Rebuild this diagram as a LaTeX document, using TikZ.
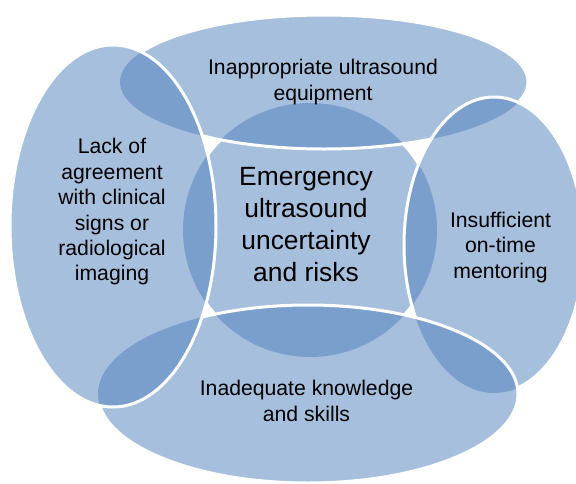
\documentclass[tikz,border=0pt]{standalone}
\usepackage{fontspec}
\setmainfont{Liberation Sans}
\definecolor{accent}{RGB}{79,129,189}
\begin{document}
\begin{tikzpicture}[x=1pt,y=-1pt,
  shapefill/.style={fill=accent, fill opacity=0.5},
  rim/.style={draw=white, line width=3pt},
  lbl/.style={align=center, inner sep=0pt, text=black, font=\fontsize{21.2}{25.4}\selectfont},
]
\useasboundingbox (0,0) rectangle (576,483);
\fill[white] (0,0) rectangle (576,483);
% fills (overlaps darken)
\path[shapefill] (310,230) circle (127pt);
\path[shapefill] (324,82) ellipse (204pt and 67pt);
\path[shapefill] (494,245) ellipse (90pt and 148pt);
\path[shapefill] (308,394) ellipse (210pt and 89pt);
\path[shapefill] (113,226) ellipse (103pt and 181pt);
% circle rim: visible only outside all ellipses
\begin{scope}[even odd rule]
  \clip (-30,-30) rectangle (610,520) (324,82) ellipse (204pt and 67pt);
  \clip (-30,-30) rectangle (610,520) (494,245) ellipse (90pt and 148pt);
  \clip (-30,-30) rectangle (610,520) (308,394) ellipse (210pt and 89pt);
  \clip (-30,-30) rectangle (610,520) (113,226) ellipse (103pt and 181pt);
  \path[rim] (310,230) circle (127pt);
\end{scope}
% top ellipse rim: hidden under left and right
\begin{scope}[even odd rule]
  \clip (-30,-30) rectangle (610,520) (113,226) ellipse (103pt and 181pt);
  \clip (-30,-30) rectangle (610,520) (494,245) ellipse (90pt and 148pt);
  \path[rim] (324,82) ellipse (204pt and 67pt);
\end{scope}
% right ellipse rim: hidden under bottom
\begin{scope}[even odd rule]
  \clip (-30,-30) rectangle (610,520) (308,394) ellipse (210pt and 89pt);
  \path[rim] (494,245) ellipse (90pt and 148pt);
\end{scope}
% bottom ellipse rim: hidden under left
\begin{scope}[even odd rule]
  \clip (-30,-30) rectangle (610,520) (113,226) ellipse (103pt and 181pt);
  \path[rim] (308,394) ellipse (210pt and 89pt);
\end{scope}
% left ellipse rim: on top
\path[rim] (113,226) ellipse (103pt and 181pt);
% labels
\node[lbl] (ltop) at (323,82) {Inappropriate ultrasound\\equipment};
\node[lbl] (lleft) at (112,212) {Lack of\\agreement\\with clinical\\signs or\\radiological\\imaging};
\node[lbl] (lright) at (500.5,247.5) {Insufficient\\on-time\\mentoring};
\node[lbl, font=\fontsize{26.4}{32}\selectfont] (lcenter) at (306,224.5) {Emergency\\ultrasound\\uncertainty\\and risks};
\node[lbl] (lbottom) at (306.5,401) {Inadequate knowledge\\and skills};
\end{tikzpicture}
\end{document}
